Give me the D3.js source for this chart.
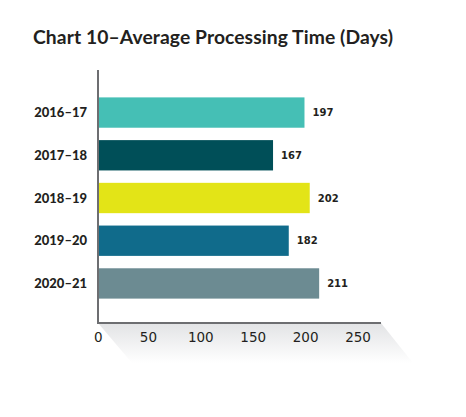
<!DOCTYPE html>
<html>
<head>
<meta charset="utf-8">
<script src="https://cdn.jsdelivr.net/npm/d3@7"></script>
<style>
  body { margin: 0; background: #fff; }
  text { font-family: Lato, "Open Sans", sans-serif; fill: #231f20; }
</style>
</head>
<body>
<script>
// chart data
var years = ["2016\u201317", "2017\u201318", "2018\u201319", "2019\u201320", "2020\u201321"];
var days = [197, 167, 202, 182, 211];
var barColors = ["#45bfb5", "#004f58", "#e3e417", "#106b8b", "#6c8b92"];
var ticks = [0, 50, 100, 150, 200, 250];

var width = 466, height = 417;

var svg = d3.select("body").append("svg")
    .attr("width", width)
    .attr("height", height);

// title
svg.append("text")
    .attr("x", 33)
    .attr("y", 44)
    .attr("textLength", 360)
    .style("font-size", "19.3px")
    .style("font-weight", "bold")
    .text("Chart 10\u2013Average Processing Time (Days)");

// scales
var x = d3.scaleLinear().domain([0, 270]).range([98, 381]);
var y = d3.scaleBand().domain(years).range([85, 311]).paddingInner(0.29).paddingOuter(0.29);

// shadow under the x axis
var grad = svg.append("defs").append("linearGradient")
    .attr("id", "shade").attr("x1", 0).attr("y1", 0).attr("x2", 0).attr("y2", 1);
grad.append("stop").attr("offset", "0%").attr("stop-color", "#e2e3e5");
grad.append("stop").attr("offset", "100%").attr("stop-color", "#ffffff");

svg.append("polygon")
    .attr("points", [[x(0), 323], [x(270), 323], [x(270) + 32, 363], [x(0) + 34, 363]].join(" "))
    .attr("fill", "url(#shade)");

// bars
svg.selectAll("rect.bar")
    .data(days)
    .enter()
    .append("rect")
    .attr("class", "bar")
    .attr("x", x(0))
    .attr("y", function(d, i) { return y(years[i]); })
    .attr("width", function(d) { return x(d) - x(0); })
    .attr("height", y.bandwidth())
    .attr("fill", function(d, i) { return barColors[i]; });

// value labels
svg.selectAll("text.val")
    .data(days)
    .enter()
    .append("text")
    .attr("class", "val")
    .attr("x", function(d) { return x(d) + 8; })
    .attr("y", function(d, i) { return y(years[i]) + y.bandwidth() / 2; })
    .attr("dy", "0.35em")
    .style("font-family", "'DejaVu Sans', sans-serif")
    .style("font-size", "10px")
    .style("font-weight", "bold")
    .text(function(d) { return d; });

// category labels
svg.selectAll("text.cat")
    .data(years)
    .enter()
    .append("text")
    .attr("class", "cat")
    .attr("x", 87)
    .attr("y", function(d) { return y(d) + y.bandwidth() / 2; })
    .attr("dy", "0.36em")
    .attr("text-anchor", "end")
    .style("font-size", "13px")
    .style("font-weight", "900")
    .text(function(d) { return d; });

// axes lines
svg.append("line")
    .attr("x1", x(0)).attr("x2", x(0))
    .attr("y1", 70).attr("y2", 323)
    .attr("stroke", "#6d6e71").attr("stroke-width", 2);
svg.append("line")
    .attr("x1", x(0) - 1).attr("x2", x(270))
    .attr("y1", 323).attr("y2", 323)
    .attr("stroke", "#6d6e71").attr("stroke-width", 2);

// x tick labels
svg.selectAll("text.tick")
    .data(ticks)
    .enter()
    .append("text")
    .attr("class", "tick")
    .attr("x", function(d) { return x(d); })
    .attr("y", 342)
    .attr("text-anchor", function(d) { return d === 0 ? "start" : "middle"; })
    .attr("dx", function(d) { return d === 0 ? -4 : -2; })
    .style("font-family", "'DejaVu Sans', sans-serif")
    .style("font-size", "13.5px")
    .text(function(d) { return d; });
</script>
</body>
</html>
